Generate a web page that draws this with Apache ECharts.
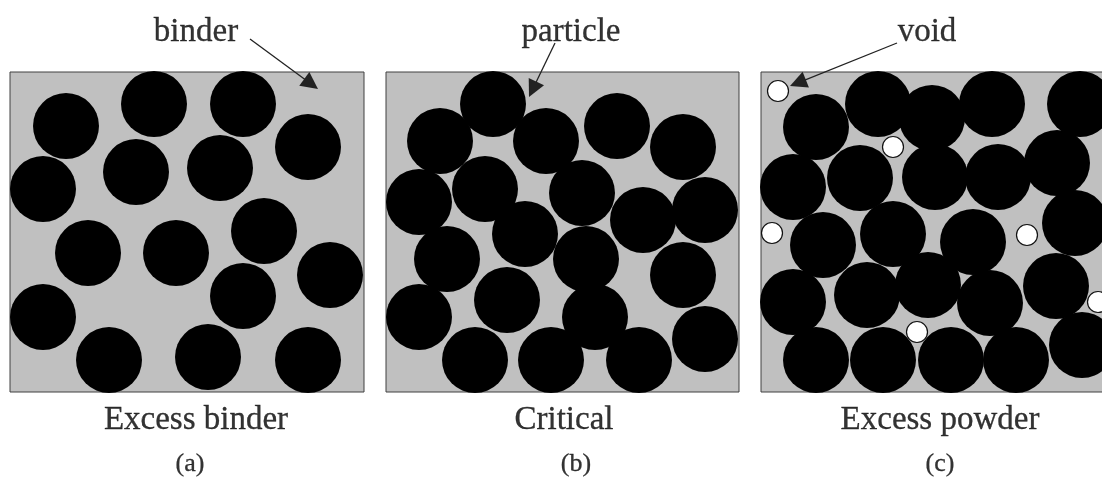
<!DOCTYPE html>
<html>
<head>
<meta charset="utf-8">
<script src="https://cdn.jsdelivr.net/npm/echarts@6/dist/echarts.min.js"></script>
<style>
  html, body { margin: 0; padding: 0; background: #fff; }
  #chart { width: 1102px; height: 480px; }
</style>
</head>
<body>
<div id="chart"></div>
<script>
// particle centres in page pixels
const circlesA = [[66, 126], [154, 104], [243, 104], [308, 147], [43, 189], [136, 172], [220, 168], [264, 231],
  [88, 253], [176, 253], [330, 275], [243, 296], [43, 317], [109, 360], [208, 357], [308, 360]]
const circlesB = [[493, 104], [440, 141], [546, 141], [617, 126], [683, 147], [419, 202], [485, 189], [582, 193],
  [643, 220], [705, 210], [447, 259], [525, 234], [586, 259], [683, 275], [419, 317], [507, 300], [595, 317],
  [705, 339], [475, 360], [551, 360], [639, 360]]
const circlesC = [[816, 127], [878, 104], [932, 118], [992, 104], [1080, 104], [793, 187], [860, 178], [935, 177],
  [998, 177], [1057, 163], [823, 245], [893, 234], [973, 242], [1075, 223], [793, 302], [867, 295], [928, 285],
  [990, 303], [1056, 286], [816, 360], [883, 360], [951, 360], [1016, 360], [1082, 345]]
const voidsC = [[778, 91], [893, 147], [772, 233], [1027, 235], [1098, 302], [917, 332]]

const pointerLabels = [[196, 32, 'binder'], [571, 32, 'particle'], [927, 32, 'void']]
const stateLabels = [[196, 420, 'Excess binder'], [564, 420, 'Critical'], [940, 420, 'Excess powder']]
const panelLabels = [[190, 464, '(a)'], [576, 464, '(b)'], [940, 464, '(c)']]
// [fromX, fromY, tipX, tipY]
const arrows = [[250, 39, 318, 89], [555, 43, 529, 97], [897, 43, 790, 86]]

// panel boxes [x0, y0, x1, y1]; the last one runs off the right edge
const panels = [[10, 72, 364, 392], [386, 72, 739, 392], [761, 72, 1121, 392]]

const chart = echarts.init(document.getElementById('chart'))
const serif = "'Liberation Serif', 'Times New Roman', serif"
const headSize = [12, 17]

const grids = panels.map(p => ({
  left: p[0], top: p[1], width: p[2] - p[0], height: p[3] - p[1],
  outerBoundsMode: 'none',
  show: true, backgroundColor: '#c0c0c0', borderColor: '#404040', borderWidth: 1, z: 0
}))
grids.push({ left: 0, top: 0, width: 1102, height: 480, outerBoundsMode: 'none', show: false })

const xAxes = panels.map((p, i) => ({ type: 'value', gridIndex: i, min: p[0], max: p[2], show: false }))
xAxes.push({ type: 'value', gridIndex: 3, min: 0, max: 1102, show: false })
const yAxes = panels.map((p, i) => ({ type: 'value', gridIndex: i, min: p[1], max: p[3], inverse: true, show: false }))
yAxes.push({ type: 'value', gridIndex: 3, min: 0, max: 480, inverse: true, show: false })

function particles(data, i) {
  return {
    type: 'scatter', xAxisIndex: i, yAxisIndex: i, clip: true, silent: true,
    symbol: 'circle', symbolSize: 66,
    itemStyle: { color: '#000', opacity: 1 },
    data: data, z: 2
  }
}

function textSeries(data, size) {
  return {
    type: 'scatter', xAxisIndex: 3, yAxisIndex: 3, silent: true, symbolSize: 0,
    data: data.map(d => ({ value: [d[0], d[1]], name: d[2] })),
    label: {
      show: true, position: 'inside', formatter: '{b}',
      fontFamily: serif, fontSize: size, color: '#000',
      textBorderColor: '#000', textBorderWidth: 0.3
    },
    z: 5
  }
}

// the line symbol is centred on the end point, so pull the end back by half the head
const arrowData = arrows.map(a => {
  const dx = a[2] - a[0], dy = a[3] - a[1]
  const len = Math.sqrt(dx * dx + dy * dy)
  const k = (len - headSize[1] / 2) / len
  return { coords: [[a[0], a[1]], [a[0] + dx * k, a[1] + dy * k]] }
})

const option = {
  animation: false,
  backgroundColor: '#fff',
  grid: grids,
  xAxis: xAxes,
  yAxis: yAxes,
  series: [
    particles(circlesA, 0),
    particles(circlesB, 1),
    particles(circlesC, 2),
    {
      type: 'scatter', xAxisIndex: 2, yAxisIndex: 2, clip: true, silent: true,
      symbol: 'circle', symbolSize: 21,
      itemStyle: { color: '#fff', borderColor: '#111', borderWidth: 1.2, opacity: 1 },
      data: voidsC, z: 3
    },
    {
      type: 'lines', coordinateSystem: 'cartesian2d', xAxisIndex: 3, yAxisIndex: 3, silent: true,
      symbol: ['none', 'triangle'], symbolSize: headSize,
      lineStyle: { color: '#222', width: 1.3, opacity: 1 },
      itemStyle: { color: '#000' },
      data: arrowData, z: 6
    },
    textSeries(pointerLabels, 33),
    textSeries(stateLabels, 33),
    textSeries(panelLabels, 26)
  ]
}

chart.setOption(option)
</script>
</body>
</html>
